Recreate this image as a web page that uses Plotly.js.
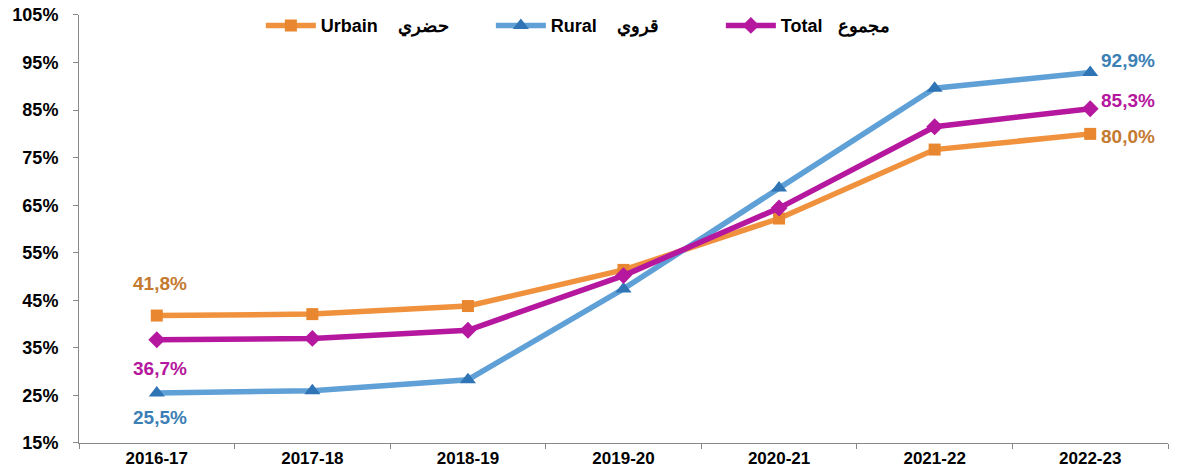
<!DOCTYPE html>
<html>
<head>
<meta charset="utf-8">
<script src="https://cdn.plot.ly/plotly-3.0.1.min.js"></script>
<style>html,body{margin:0;padding:0;background:#fff;}#chart{width:1180px;height:473px;}</style>
</head>
<body>
<div id="chart"></div>
<script>
const years = ['2016-17','2017-18','2018-19','2019-20','2020-21','2021-22','2022-23'];
const urbain = [41.8, 42.1, 43.8, 51.4, 62.2, 76.7, 80.0];
const rural  = [25.5, 26.0, 28.3, 47.4, 68.6, 89.6, 92.9];
const total  = [36.7, 37.0, 38.7, 50.2, 64.4, 81.5, 85.3];
const names = ['Urbain    حضري', 'Rural    قروي', 'Total   مجموع'];

const fmt = v => v.toFixed(1).replace('.', ',') + '%';
const FF = 'Liberation Sans, Arial, sans-serif';

const series = [
  {y: urbain, name: names[0], line: '#F0923D', mk: '#E8872F', sym: 'square', size: 12, lab: '#C47A30',
   firstShift: 32, lastShift: -3},
  {y: rural, name: names[1], line: '#5FA0D6', mk: '#2F74B5', sym: 'triangle-up', size: 14, lab: '#3C7FB5',
   firstShift: -24, lastShift: 12},
  {y: total, name: names[2], line: '#B5179E', mk: '#B5179E', sym: 'diamond', size: 13, lab: '#B5179E',
   firstShift: -29, lastShift: 8}
];

const traces = series.map(s => ({
  x: years, y: s.y, name: s.name, type: 'scatter', mode: 'lines+markers',
  line: {color: s.line, width: 5.5},
  marker: {symbol: s.sym, size: s.size, color: s.mk},
  cliponaxis: false
}));

const annotations = [];
series.forEach(s => {
  const n = s.y.length;
  annotations.push({
    x: years[0], y: s.y[0], xref: 'x', yref: 'y', text: fmt(s.y[0]),
    showarrow: false, xanchor: 'center', yanchor: 'middle', yshift: s.firstShift, xshift: 3,
    font: {family: FF, size: 19, weight: 'bold', color: s.lab}
  });
  annotations.push({
    x: years[n - 1], y: s.y[n - 1], xref: 'x', yref: 'y', text: fmt(s.y[n - 1]),
    showarrow: false, xanchor: 'left', yanchor: 'middle', xshift: 9, yshift: s.lastShift,
    font: {family: FF, size: 19, weight: 'bold', color: s.lab}
  });
});

const layout = {
  width: 1180, height: 473,
  margin: {l: 79, r: 12, t: 5, b: 30},
  paper_bgcolor: '#fff', plot_bgcolor: '#fff',
  font: {family: FF, size: 14, color: '#000'},
  showlegend: true,
  legend: {
    orientation: 'h', x: 0.167, xanchor: 'left',
    y: 0.995, yanchor: 'top',
    bgcolor: 'rgba(0,0,0,0)', itemwidth: 50, entrywidth: 165, entrywidthmode: 'pixels',
    font: {family: FF, size: 18, weight: 'bold', color: '#000'}
  },
  annotations: annotations,
  xaxis: {
    type: 'category', range: [-0.5, 6.5], showgrid: false, zeroline: false,
    showline: true, linecolor: '#888', linewidth: 1,
    ticks: 'outside', tickson: 'boundaries', ticklen: 5, tickcolor: '#888',
    tickfont: {family: FF, size: 17, weight: 'bold', color: '#000'}
  },
  yaxis: {
    range: [15, 105], dtick: 10, tick0: 15, ticksuffix: '%', domain: [0, 0.9772],
    showgrid: false, zeroline: false,
    showline: true, linecolor: '#888', linewidth: 1,
    ticks: 'outside', ticklen: 5, tickcolor: '#888', ticklabelstandoff: 11,
    tickfont: {family: FF, size: 18, weight: 'bold', color: '#000'}
  }
};

Plotly.newPlot('chart', traces, layout, {displayModeBar: false, staticPlot: true});
</script>
</body>
</html>
